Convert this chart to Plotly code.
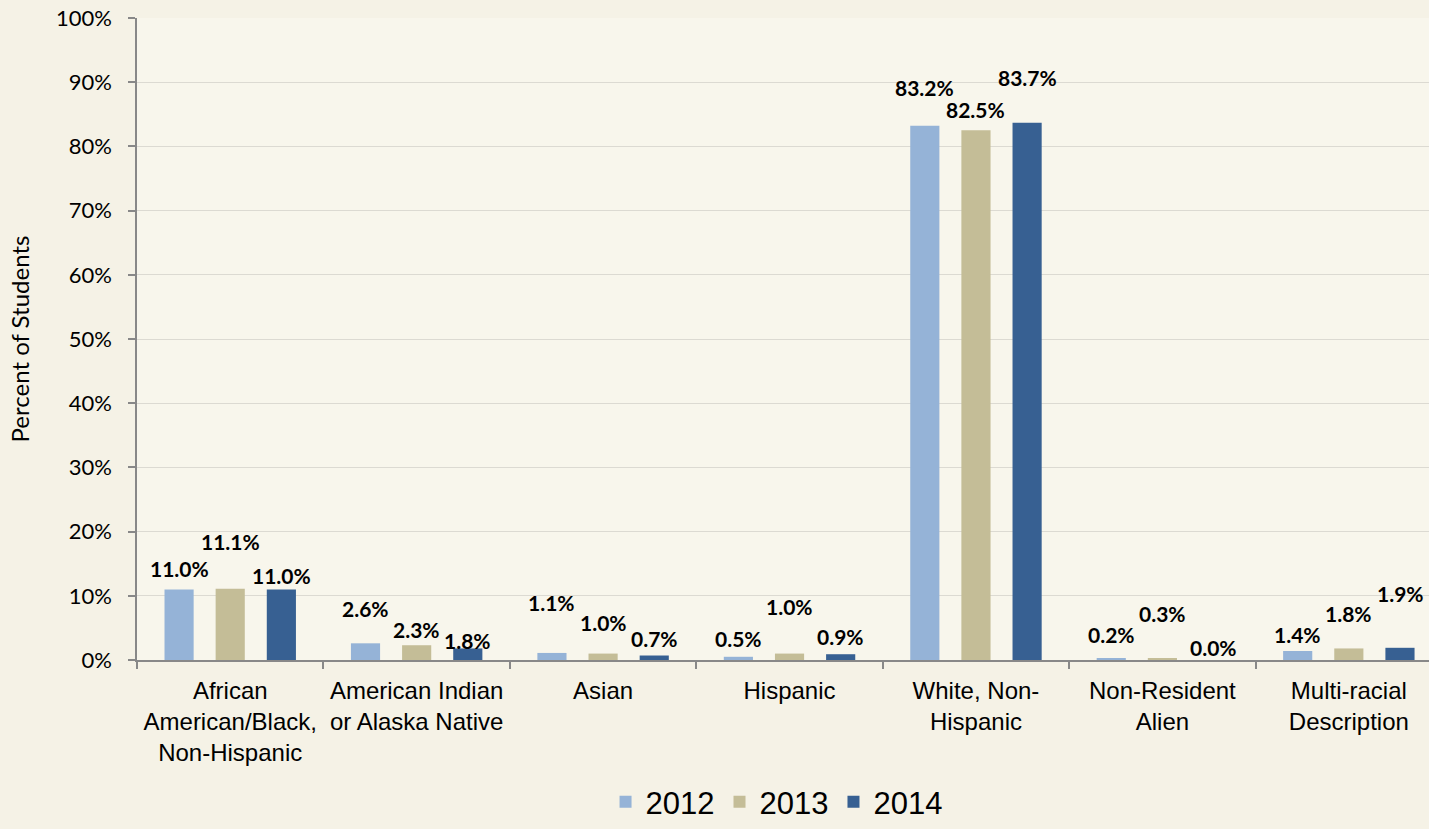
import plotly.graph_objects as go

categories = [
    "African<br>American/Black,<br>Non-Hispanic",
    "American Indian<br>or Alaska Native",
    "Asian",
    "Hispanic",
    "White, Non-<br>Hispanic",
    "Non-Resident<br>Alien",
    "Multi-racial<br>Description",
]
years = ["2012", "2013", "2014"]
values_2012 = [11.0, 2.6, 1.1, 0.5, 83.2, 0.2, 1.4]
values_2013 = [11.1, 2.3, 1.0, 1.0, 82.5, 0.3, 1.8]
values_2014 = [11.0, 1.8, 0.7, 0.9, 83.7, 0.0, 1.9]
series = [values_2012, values_2013, values_2014]
colors = ["#95b3d7", "#c4bd97", "#376092"]

# label placement (manually positioned labels in the original), in axis units
label_y_2012 = [14.3, 8.1, 8.9, 3.3, 89.1, 3.9, 4.0]
label_y_2013 = [18.5, 4.8, 5.9, 8.3, 85.8, 7.3, 7.3]
label_y_2014 = [13.2, 3.1, 3.4, 3.6, 90.8, 2.0, 10.3]
label_ys = [label_y_2012, label_y_2013, label_y_2014]

fig = go.Figure()
for name, vals, col in zip(years, series, colors):
    fig.add_trace(go.Bar(x=categories, y=vals, name=name, marker_color=col,
                         marker_line_width=0))

slot_px = 51.2
annotations = []
for j, (vals, ly) in enumerate(zip(series, label_ys)):
    for cat, v, yy in zip(categories, vals, ly):
        annotations.append(dict(
            x=cat, y=yy, xref="x", yref="y", text=f"<b>{v:.1f}%</b>",
            showarrow=False, xshift=(j - 1) * slot_px, yanchor="middle",
            font=dict(family="Lato, Calibri, sans-serif", size=21, color="#000000"),
        ))

annotations.append(dict(
    x=-0.091, y=0.5, xref="paper", yref="paper", text="Percent of Students",
    textangle=-90, showarrow=False, xanchor="center", yanchor="middle",
    font=dict(family="Lato, Calibri, sans-serif", size=24, color="#000000"),
))

fig.update_layout(
    width=1429, height=829,
    margin=dict(l=137, r=0, t=18, b=169),
    paper_bgcolor="#f5f2e6",
    plot_bgcolor="#f8f6ec",
    barmode="group",
    bargap=0.177,
    bargroupgap=0.43,
    showlegend=True,
    legend=dict(orientation="h", x=0.495, y=-0.222, xanchor="center", yanchor="middle",
                font=dict(family="Liberation Sans, Arial, sans-serif", size=31, color="#000000"),
                bgcolor="rgba(0,0,0,0)", itemwidth=30),
    annotations=annotations,
    xaxis=dict(
        type="category", range=[-0.5, 6.43], tickson="boundaries",
        ticks="outside", ticklen=7, tickcolor="#888888", tickwidth=1.5,
        showline=True, linecolor="#888888", linewidth=1.5,
        showgrid=False, ticklabelstandoff=8,
        tickfont=dict(family="Liberation Sans, Arial, sans-serif", size=24, color="#000000"),
    ),
    yaxis=dict(
        range=[0, 100], dtick=10, ticksuffix="%",
        ticks="outside", ticklen=7, tickcolor="#888888", tickwidth=1.5,
        showline=True, linecolor="#888888", linewidth=1.5,
        showgrid=True, gridcolor="#dcdad2", gridwidth=1.3,
        zeroline=False, ticklabelstandoff=12,
        tickfont=dict(family="Lato, Calibri, sans-serif", size=22, color="#000000"),
    ),
)

fig.write_html("out.html", config={"displayModeBar": False},
               post_script="document.body.style.margin='0';")
